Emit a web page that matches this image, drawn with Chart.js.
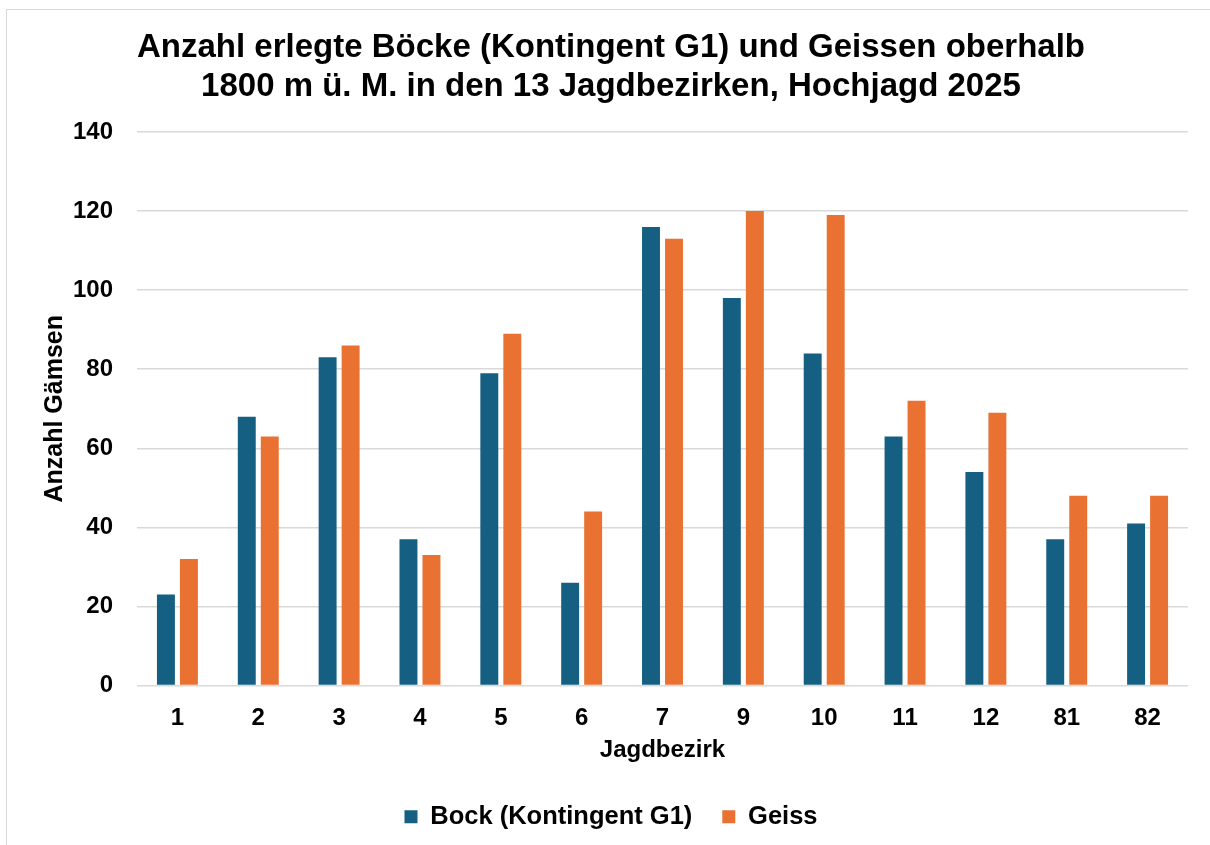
<!DOCTYPE html>
<html>
<head>
<meta charset="utf-8">
<script src="https://cdn.jsdelivr.net/npm/chart.js@4"></script>
<style>
  html, body { margin: 0; padding: 0; background: #ffffff; overflow: hidden; }
  #frame { position: absolute; left: 6px; top: 9px; width: 1400px; height: 1000px; border: 1px solid #d9d9d9; box-sizing: border-box; }
  #wrap { position: absolute; left: 0; top: 0; width: 1210px; height: 845px; }
</style>
</head>
<body>
<div id="frame"></div>
<div id="wrap"><canvas id="c" width="1210" height="845"></canvas></div>
<script>
const categories = ['1', '2', '3', '4', '5', '6', '7', '9', '10', '11', '12', '81', '82'];
const bockValues = [23, 68, 83, 37, 79, 26, 116, 98, 84, 63, 54, 37, 41];
const geissValues = [32, 63, 86, 33, 89, 44, 113, 120, 119, 72, 69, 48, 48];
const seriesNames = ['Bock (Kontingent G1)', 'Geiss'];
const titleLines = ['Anzahl erlegte Böcke (Kontingent G1) und Geissen oberhalb', '1800 m ü. M. in den 13 Jagdbezirken, Hochjagd 2025'];
const yTitle = 'Anzahl Gämsen';
const xTitle = 'Jagdbezirk';

const FONT = "'Liberation Sans', Arial, sans-serif";

new Chart(document.getElementById('c'), {
  type: 'bar',
  data: {
    labels: categories,
    datasets: [
      { label: seriesNames[0], data: bockValues, backgroundColor: '#156082', borderWidth: 0 },
      { label: seriesNames[1], data: geissValues, backgroundColor: '#E97132', borderWidth: 0 }
    ]
  },
  options: {
    responsive: false,
    animation: false,
    devicePixelRatio: 1,
    layout: { padding: { left: 34, right: 22, top: 0, bottom: 5.5 } },
    datasets: { bar: { categoryPercentage: 0.569, barPercentage: 0.78 } },
    plugins: {
      title: {
        display: true,
        text: titleLines,
        color: '#000000',
        font: { family: FONT, size: 33, weight: 'bold', lineHeight: 1.164 },
        padding: { top: 28.8, bottom: 26.4 }
      },
      legend: {
        display: true,
        position: 'bottom',
        labels: {
          color: '#000000',
          font: { family: FONT, size: 25.5, weight: 'bold' },
          boxWidth: 13,
          boxHeight: 13,
          padding: 30
        }
      },
      tooltip: { enabled: false }
    },
    scales: {
      x: {
        grid: { display: false },
        border: { display: false },
        ticks: { color: '#000000', font: { family: FONT, size: 24, weight: 'bold' }, padding: 10, maxRotation: 0, autoSkip: false },
        title: { display: true, text: xTitle, color: '#000000', font: { family: FONT, size: 24, weight: 'bold', lineHeight: 1.2 }, padding: { top: 0, bottom: 9.6 } },
        afterFit: (s) => { s.height = 88.5; }
      },
      y: {
        min: 0,
        max: 140,
        ticks: { stepSize: 20, color: '#000000', font: { family: FONT, size: 24, weight: 'bold' }, padding: 24 },
        grid: { color: '#d9d9d9', lineWidth: 1.5, drawTicks: false },
        border: { display: false },
        title: { display: true, text: yTitle, color: '#000000', font: { family: FONT, size: 25, weight: 'bold', lineHeight: 1.2 }, padding: { top: 6, bottom: 0 } },
        afterFit: (s) => { s.width = 103; }
      }
    }
  }
});
</script>
</body>
</html>
